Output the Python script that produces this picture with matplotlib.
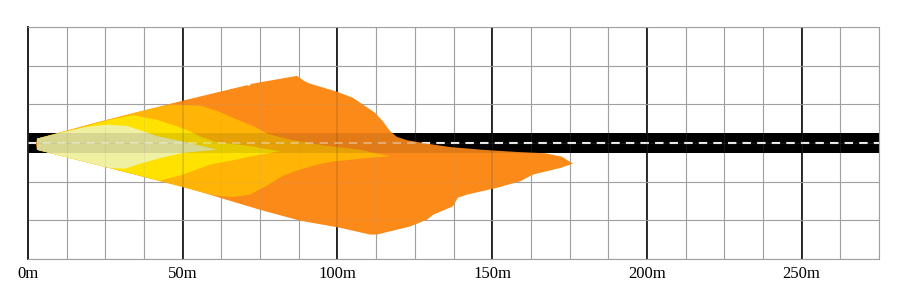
import matplotlib
matplotlib.use('Agg')
import matplotlib.pyplot as plt
import numpy as np

# headlight isolux zones, top view: distance ahead (m) and lateral offset (m)
outer_x = [2.6, 2.9, 23.3, 50.1, 70.8, 71.4, 72.1, 86.9, 89.5, 91.1, 99.8, 105.0, 112.1,
           114.7, 117.0, 119.2, 122.5, 128.9, 136.3, 147.0, 158.0, 167.0, 172.5, 176.1,
           171.9, 163.2, 159.0, 151.5, 141.8, 138.9, 137.3, 130.9, 128.9, 123.4, 112.8,
           110.5, 100.8, 87.9, 75.0, 62.0, 50.1, 23.3, 2.9]
outer_y = [-0.4, 1.4, 6.9, 13.7, 18.7, 18.4, 19.1, 21.7, 19.9, 19.2, 16.6, 14.6, 9.8,
           7.0, 3.8, 2.0, 0.9, -0.2, -1.3, -2.2, -2.9, -3.3, -4.4, -6.7,
           -8.1, -10.2, -12.4, -14.5, -16.7, -17.7, -20.5, -23.2, -24.8, -27.0, -29.6,
           -29.6, -27.4, -25.1, -21.6, -17.7, -14.1, -7.3, -2.2]

amber_x = [2.9, 23.3, 39.4, 45.9, 55.6, 61.1, 68.5, 74.0, 77.2, 84.7, 94.3, 107.3, 117.0,
           109.5, 98.5, 93.4, 87.9, 82.4, 77.2, 71.7, 66.2, 60.4, 23.3, 2.9]
amber_y = [1.4, 6.9, 11.0, 12.4, 12.1, 10.4, 7.2, 4.9, 3.0, 1.1, -0.6, -2.2, -4.3,
           -4.9, -6.0, -7.0, -8.6, -10.6, -13.8, -16.7, -17.5, -17.0, -7.3, -2.2]

yellow_x = [2.9, 16.8, 26.5, 33.9, 41.7, 48.1, 52.3, 55.6, 60.4, 71.7, 81.4,
            71.7, 66.2, 58.8, 50.1, 42.6, 23.3, 2.9]
yellow_y = [1.4, 4.9, 7.5, 9.0, 7.5, 5.4, 3.8, 2.1, 0.4, -1.0, -2.7,
            -4.4, -5.6, -7.0, -10.2, -12.2, -7.3, -2.2]

pale_x = [2.9, 11.3, 18.4, 25.5, 32.0, 37.2, 41.7, 50.1, 61.1,
          50.1, 42.6, 36.2, 31.3, 26.5, 2.9]
pale_y = [1.4, 3.5, 5.1, 5.9, 5.5, 3.8, 2.2, 0.5, -2.2,
          -3.2, -4.9, -6.7, -8.3, -8.1, -2.2]

zone_colors = ['#FC8A18', '#FFB406', '#FFE200', '#F0F0A2']

dist_ticks = [0, 50, 100, 150, 200, 250]
dist_labels = ['0m', '50m', '100m', '150m', '200m', '250m']
x_max = 275
y_half = 37.5
road_half = 3.25
grid_step = 12.5

grey = '#a0a0a0'
dark = '#111111'

fig = plt.figure(figsize=(9.07, 3.04), dpi=100)
ax = fig.add_axes([28 / 907, 45 / 304, 851 / 907, 232 / 304])
ax.set_xlim(0, x_max)
ax.set_ylim(-y_half, y_half)

# grid
minor_x = np.arange(0, x_max + 0.1, grid_step)
grid_y = np.arange(-y_half, y_half + 0.1, grid_step)
ax.set_xticks(dist_ticks)
ax.set_xticklabels(dist_labels, family='Liberation Serif', fontsize=12)
ax.set_xticks(minor_x, minor=True)
ax.set_yticks(grid_y)
ax.set_axisbelow(True)
ax.grid(which='minor', axis='x', color=grey, lw=0.8)
ax.grid(which='major', axis='x', color=dark, lw=1.3)
ax.grid(which='major', axis='y', color=grey, lw=0.8)
ax.tick_params(axis='x', which='both', length=0, pad=5)
ax.tick_params(axis='y', left=False, labelleft=False)
for side in ['top', 'right', 'bottom']:
    ax.spines[side].set_color(grey)
    ax.spines[side].set_linewidth(0.8)
ax.spines['left'].set_color(dark)
ax.spines['left'].set_linewidth(1.3)

# road
ax.fill_between([0, x_max], -road_half, road_half, color='black', lw=0, zorder=1)
ax.plot([0, x_max], [0, 0], color='white', lw=1.5, dashes=(4, 3), zorder=2)

# light zones
zones = [(outer_x, outer_y), (amber_x, amber_y), (yellow_x, yellow_y), (pale_x, pale_y)]
for (zx, zy), c in zip(zones, zone_colors):
    ax.fill(zx, zy, color=c, lw=0, zorder=3)

# faint show-through of grid and road on top of the zones
ax.vlines(minor_x, -y_half, y_half, color=grey, lw=0.8, alpha=0.15, zorder=4)
ax.vlines(dist_ticks, -y_half, y_half, color=dark, lw=1.3, alpha=0.12, zorder=4)
ax.hlines(grid_y, 0, x_max, color=grey, lw=0.8, alpha=0.15, zorder=4)
ax.fill_between([0, x_max], -road_half, road_half, color='black', alpha=0.1, lw=0, zorder=4)
ax.plot([0, x_max], [0, 0], color='white', lw=1.5, dashes=(4, 3), alpha=0.35, zorder=5)

fig.savefig('out.png', dpi=100)
